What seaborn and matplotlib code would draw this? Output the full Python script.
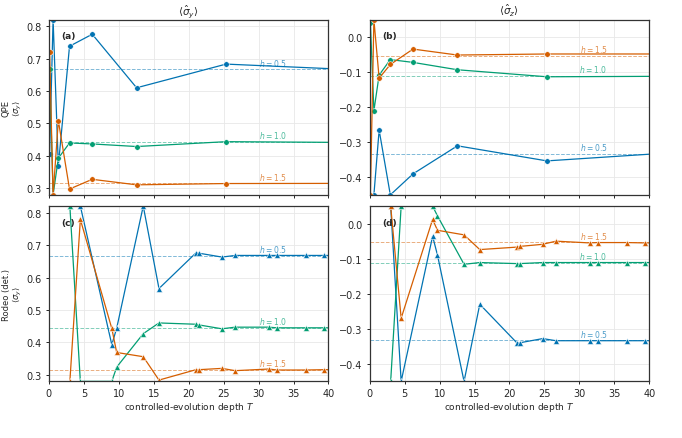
import pandas as pd
import seaborn as sns
import matplotlib.pyplot as plt

# depths T (QPE grid and Rodeo grid), last point lies beyond the x-limit
t_qpe = [0.1, 0.6, 1.35, 2.95, 6.2, 12.55, 25.35, 50.7]
t_rod = [3.0, 4.5, 9.0, 9.7, 13.5, 15.75, 21.05, 21.45, 24.75, 26.65, 31.45, 32.6, 36.75, 39.4, 45.0]

fields = [0.5, 1.0, 1.5]

# QPE estimates (clipped to the axis limits)
qpe_y_05 = [0.406, 0.82, 0.37, 0.738, 0.775, 0.610, 0.683, 0.659]
qpe_y_10 = [0.667, 0.28, 0.393, 0.440, 0.437, 0.429, 0.444, 0.4405]
qpe_y_15 = [0.719, 0.28, 0.509, 0.298, 0.328, 0.311, 0.315, 0.3157]
qpe_z_05 = [-0.45, -0.45, -0.265, -0.45, -0.39, -0.31, -0.353, -0.320]
qpe_z_10 = [0.04, -0.21, -0.108, -0.064, -0.072, -0.093, -0.113, -0.111]
qpe_z_15 = [-0.45, 0.05, -0.117, -0.078, -0.034, -0.051, -0.048, -0.048]

# Rodeo (deterministic) estimates
rod_y_05 = [0.82, 0.82, 0.393, 0.444, 0.82, 0.566, 0.676, 0.675, 0.663, 0.668,
            0.668, 0.668, 0.668, 0.668, 0.667]
rod_y_10 = [0.82, 0.28, 0.28, 0.324, 0.427, 0.46, 0.456, 0.454, 0.442, 0.447,
            0.447, 0.445, 0.445, 0.445, 0.445]
rod_y_15 = [0.28, 0.779, 0.443, 0.369, 0.356, 0.284, 0.316, 0.316, 0.320, 0.313,
            0.318, 0.315, 0.315, 0.316, 0.316]
rod_z_05 = [0.05, -0.45, -0.036, -0.09, -0.45, -0.23, -0.34, -0.34, -0.328, -0.334,
            -0.334, -0.334, -0.334, -0.334, -0.334]
rod_z_10 = [-0.45, 0.05, 0.05, 0.022, -0.116, -0.111, -0.114, -0.114, -0.111, -0.111,
            -0.111, -0.111, -0.111, -0.111, -0.111]
rod_z_15 = [0.05, -0.27, 0.012, -0.019, -0.032, -0.074, -0.067, -0.065, -0.059, -0.050,
            -0.055, -0.054, -0.054, -0.055, -0.054]

# exact ground-state values
exact_y = [0.667, 0.444, 0.316]
exact_z = [-0.333, -0.111, -0.053]

cb = sns.color_palette('colorblind')
palette = {0.5: cb[0], 1.0: cb[2], 1.5: cb[3]}

rows = []
series = {
    ('QPE', 'y'): (t_qpe, [qpe_y_05, qpe_y_10, qpe_y_15]),
    ('QPE', 'z'): (t_qpe, [qpe_z_05, qpe_z_10, qpe_z_15]),
    ('Rodeo', 'y'): (t_rod, [rod_y_05, rod_y_10, rod_y_15]),
    ('Rodeo', 'z'): (t_rod, [rod_z_05, rod_z_10, rod_z_15]),
}
for (method, obs), (ts, vals) in series.items():
    for h, v in zip(fields, vals):
        for t, val in zip(ts, v):
            rows.append({'method': method, 'obs': obs, 'h': h, 'T': t, 'value': val})
df = pd.DataFrame(rows)

sns.set_style('ticks')
plt.rcParams.update({'axes.edgecolor': '#333333', 'axes.linewidth': 0.9,
                     'xtick.labelsize': 7, 'ytick.labelsize': 7,
                     'xtick.major.size': 2.5, 'ytick.major.size': 2.5,
                     'xtick.major.width': 0.7, 'ytick.major.width': 0.7,
                     'xtick.major.pad': 2, 'ytick.major.pad': 2.5})

fig, axes = plt.subplots(2, 2, figsize=(6.82, 4.39), dpi=100, sharex=True)
fig.subplots_adjust(left=0.0717, right=0.952, bottom=0.129, top=0.953,
                    wspace=0.1475, hspace=0.064)

panels = [('QPE', 'y', 'o', 4.0), ('QPE', 'z', 'o', 4.0),
          ('Rodeo', 'y', '^', 4.3), ('Rodeo', 'z', '^', 4.3)]
letters = ['(a)', '(b)', '(c)', '(d)']
for ax, (method, obs, mk, ms), letter in zip(axes.flat, panels, letters):
    sub = df[(df['method'] == method) & (df['obs'] == obs)]
    sns.lineplot(data=sub, x='T', y='value', hue='h', palette=palette,
                 hue_order=fields, marker=mk, markersize=ms, markeredgewidth=0.4,
                 linewidth=0.9, estimator=None, legend=False, ax=ax)
    exact = exact_y if obs == 'y' else exact_z
    for h, e in zip(fields, exact):
        ax.axhline(e, color=palette[h], ls='--', lw=0.7, alpha=0.5, zorder=1)
        ax.annotate(f'$h = {h:.1f}$', xy=(32, e), xytext=(0, 1.2),
                    textcoords='offset points', ha='center', va='bottom',
                    fontsize=5.5, color=palette[h], alpha=0.7)
    ax.set_xlim(0, 40)
    if obs == 'y':
        ax.set_ylim(0.28, 0.82)
        ax.set_yticks([0.3, 0.4, 0.5, 0.6, 0.7, 0.8])
    else:
        ax.set_ylim(-0.45, 0.05)
        ax.set_yticks([-0.4, -0.3, -0.2, -0.1, 0.0])
    ax.grid(True, color='#e8e8e8', lw=0.6)
    ax.set_axisbelow(True)
    ax.text(0.045, 0.935, letter, transform=ax.transAxes, ha='left', va='top',
            fontsize=6.5, fontweight='bold')
    ax.set_xlabel('')
    ax.set_ylabel('')

axes[0, 0].set_title(r'$\langle\hat{\sigma}_y\rangle$', fontsize=7.5, pad=4)
axes[0, 1].set_title(r'$\langle\hat{\sigma}_z\rangle$', fontsize=7.5, pad=4)
axes[0, 0].set_ylabel('QPE\n' + r'$\langle\sigma_y\rangle$', fontsize=6, labelpad=2,
                      linespacing=1.0)
axes[1, 0].set_ylabel('Rodeo (det.)\n' + r'$\langle\sigma_y\rangle$', fontsize=6,
                      labelpad=2, linespacing=1.0)
for ax in axes[1]:
    ax.set_xlabel('controlled-evolution depth $T$', fontsize=6.5, labelpad=2)
    ax.set_xticks([0, 5, 10, 15, 20, 25, 30, 35, 40])

fig.savefig('out.png', dpi=100)
